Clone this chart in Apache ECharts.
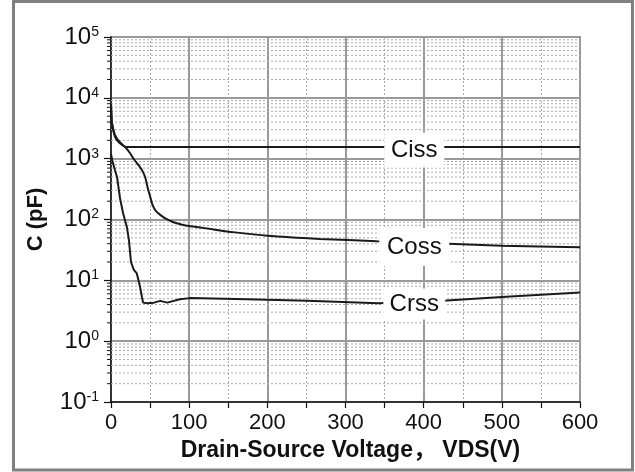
<!DOCTYPE html>
<html>
<head>
<meta charset="utf-8">
<script src="https://cdn.jsdelivr.net/npm/echarts@6/dist/echarts.min.js"></script>
<style>
html,body{margin:0;padding:0;background:#fff;}
#chart{width:635px;height:472px;}
</style>
</head>
<body>
<div id="chart"></div>
<script>
// Data
const cissV = [0, 1, 3, 5, 8, 11.5, 15, 18, 22, 100, 200, 300, 400, 500, 600];
const cissC = [8000, 4000, 3000, 2450, 2100, 1860, 1680, 1570, 1550, 1550, 1550, 1550, 1550, 1550, 1550];

const cossV = [0, 1, 5, 10, 18, 24, 30, 36, 41, 44, 47, 50, 53, 57, 63, 70, 79, 90, 100, 114, 130, 156, 200, 267, 340, 431, 500, 600];
const cossC = [8000, 4000, 2300, 1850, 1556, 1250, 950, 760, 600, 480, 330, 240, 175, 140, 119, 103, 91, 83, 78, 74, 69, 62, 54, 48, 44, 40, 37, 35];

const crssV = [0, 1.5, 5, 7.7, 11.5, 15.4, 20.5, 23, 25.6, 29, 33, 37, 41, 46, 55, 63, 72, 88, 101, 174, 251, 342, 425, 500, 600];
const crssC = [1200, 950, 650, 500, 226, 128, 73, 45, 20, 15, 13, 8, 4.3, 4.2, 4.3, 4.6, 4.3, 4.9, 5.1, 4.9, 4.6, 4.2, 4.6, 5.3, 6.3];

const curveNames = ['Ciss', 'Coss', 'Crss'];
const labelAtV = [388, 388, 388];
const labelAtC = [1550, 41, 4.4];

const xTicks = [0, 100, 200, 300, 400, 500, 600];
const yMin = 0.1, yMax = 100000;

// minor log grid values 2..9 x 10^k
const minorVals = [];
for (let e = -1; e < 5; e++) {
  for (let m = 2; m <= 9; m++) minorVals.push([0, m * Math.pow(10, e)]);
}

const zip = (a, b) => a.map((v, i) => [v, b[i]]);
const FONT = '"Liberation Sans", Arial, sans-serif';
const TITLE_FONT = '"Liberation Sans", Arial, "Noto Sans CJK SC", sans-serif';

const chart = echarts.init(document.getElementById('chart'), null, {renderer: 'canvas'});

const lineStyle = {color: '#1a1a1a', width: 2};
const markBoxes = [
  {size: [60, 35], off: [0, 3]},
  {size: [70, 38], off: [0, 4]},
  {size: [62, 31], off: [0, 2]}
];
function labelMark(i) {
  return {
    silent: true,
    z: 10,
    data: [{
      coord: [labelAtV[i], labelAtC[i]],
      symbol: 'rect',
      symbolSize: markBoxes[i].size,
      symbolOffset: markBoxes[i].off,
      itemStyle: {color: '#ffffff'},
      label: {show: true, position: 'inside', formatter: curveNames[i], color: '#111', fontSize: 24, fontFamily: FONT}
    }]
  };
}

const option = {
  backgroundColor: '#ffffff',
  animation: false,
  grid: {left: 111, top: 37, right: 55, bottom: 70, show: true, borderColor: '#444', borderWidth: 1.5, outerBoundsMode: 'none', containLabel: false},
  xAxis: {
    type: 'value', min: xTicks[0], max: xTicks[xTicks.length - 1], interval: 100,
    name: 'Drain-Source Voltage， VDS(V)', nameLocation: 'middle', nameGap: 37,
    nameTextStyle: {fontSize: 23, fontWeight: 'bold', color: '#111', fontFamily: TITLE_FONT, padding: [0, 0, 0, 10]},
    axisLine: {show: true, onZero: false, lineStyle: {color: '#111', width: 1.5}},
    axisTick: {show: true, inside: false, length: 6, lineStyle: {color: '#111', width: 1.2}},
    minorTick: {show: true, splitNumber: 2, length: 6, lineStyle: {color: '#111', width: 1.2}},
    axisLabel: {fontSize: 22, color: '#111', margin: 10, fontFamily: FONT},
    splitLine: {show: true, lineStyle: {color: '#999', width: 2}},
    minorSplitLine: {show: true, lineStyle: {color: '#aaa', width: 1, type: [2, 2]}}
  },
  yAxis: {
    type: 'log', logBase: 10, min: yMin, max: yMax,
    name: 'C (pF)', nameLocation: 'middle', nameGap: 64, nameRotate: 90,
    nameTextStyle: {fontSize: 22, fontWeight: 'bold', color: '#111', fontFamily: FONT},
    axisLine: {show: true, onZero: false, lineStyle: {color: '#111', width: 1.5}},
    axisTick: {show: true, inside: false, length: 7, lineStyle: {color: '#111', width: 1.2}},
    axisLabel: {
      margin: 12, fontFamily: FONT,
      formatter: function (v) {
        const e = Math.round(Math.log10(v));
        return '{b|10}{s|' + e + '}';
      },
      rich: {
        b: {fontSize: 24, color: '#111', fontFamily: FONT},
        s: {fontSize: 14, color: '#111', verticalAlign: 'top', fontFamily: FONT}
      }
    },
    splitLine: {show: true, lineStyle: {color: '#999', width: 2}}
  },
  series: [
    {
      type: 'custom', z: 1, silent: true, clip: false,
      data: minorVals,
      renderItem: function (params, api) {
        const v = api.value(1);
        const p0 = api.coord([xTicks[0], v]);
        const p1 = api.coord([xTicks[xTicks.length - 1], v]);
        return {
          type: 'group',
          children: [
            {type: 'line', shape: {x1: p0[0], y1: p0[1], x2: p1[0], y2: p1[1]}, style: {stroke: '#aaa', lineWidth: 1, lineDash: [2, 2]}},
            {type: 'line', shape: {x1: p0[0] - 4, y1: p0[1], x2: p0[0], y2: p0[1]}, style: {stroke: '#111', lineWidth: 1}}
          ]
        };
      }
    },
    {name: 'Ciss', type: 'line', z: 3, showSymbol: false, data: zip(cissV, cissC), lineStyle: lineStyle, markPoint: labelMark(0)},
    {name: 'Coss', type: 'line', z: 3, showSymbol: false, smooth: 0.2, data: zip(cossV, cossC), lineStyle: lineStyle, markPoint: labelMark(1)},
    {name: 'Crss', type: 'line', z: 3, showSymbol: false, data: zip(crssV, crssC), lineStyle: lineStyle, markPoint: labelMark(2)}
  ],
  graphic: [{
    type: 'rect', silent: true, z: 100,
    shape: {x: 13.5, y: 1.5, width: 619, height: 468.5},
    style: {fill: null, stroke: '#808080', lineWidth: 3}
  }]
};
chart.setOption(option);
</script>
</body>
</html>
